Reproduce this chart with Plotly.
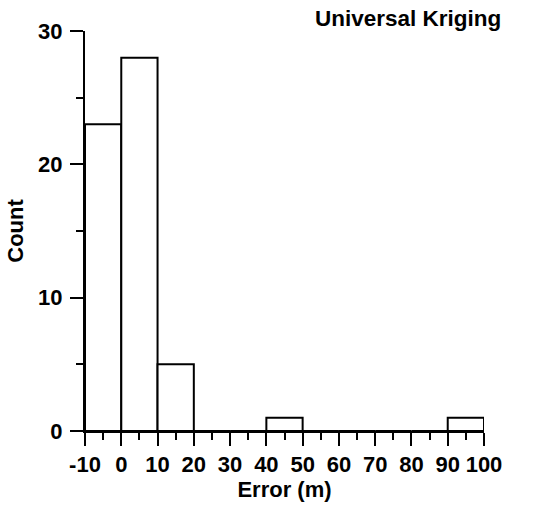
import plotly.graph_objects as go

bin_left = [-10, 0, 10, 20, 30, 40, 50, 60, 70, 80, 90]
counts = [23, 28, 5, 0, 0, 1, 0, 0, 0, 0, 1]
bin_width = 10
x_ticks = [-10, 0, 10, 20, 30, 40, 50, 60, 70, 80, 90, 100]
y_ticks = [0, 10, 20, 30]

centers = [b + bin_width / 2 for b in bin_left]

fig = go.Figure()
fig.add_trace(go.Bar(
    x=centers, y=counts, width=bin_width,
    marker=dict(color="white", line=dict(color="black", width=2)),
))

font = dict(family="Liberation Sans, Arial", size=22, color="black", weight="bold")

fig.update_layout(
    width=536, height=506,
    margin=dict(l=85, r=52, t=31, b=75),
    plot_bgcolor="white", paper_bgcolor="white",
    showlegend=False,
    font=font,
    annotations=[dict(text="Universal Kriging", xref="paper", yref="paper",
                      x=1.047, y=1.03, xanchor="right", yanchor="middle",
                      showarrow=False, font=dict(font, size=22.5))],
)
fig.update_xaxes(
    range=[-10, 100], tickvals=x_ticks, ticktext=[str(v) for v in x_ticks],
    showgrid=False, zeroline=False, showline=True, linecolor="black", linewidth=2,
    ticks="outside", ticklen=13, tickwidth=2, tickcolor="black",
    minor=dict(ticks="outside", dtick=5, tick0=-10, ticklen=7, tickwidth=2, tickcolor="black"),
    tickfont=font,
    title=dict(text="Error (m)", font=font, standoff=2),
)
fig.update_yaxes(
    range=[0, 30], tickvals=y_ticks, ticktext=[str(v) for v in y_ticks],
    showgrid=False, zeroline=False, showline=True, linecolor="black", linewidth=2,
    ticks="outside", ticklen=13, tickwidth=2, tickcolor="black",
    minor=dict(ticks="outside", dtick=5, tick0=0, ticklen=7, tickwidth=2, tickcolor="black"),
    tickfont=font, ticklabelstandoff=3,
    title=dict(text="Count", font=font, standoff=8),
)

fig.write_html("out.html")
